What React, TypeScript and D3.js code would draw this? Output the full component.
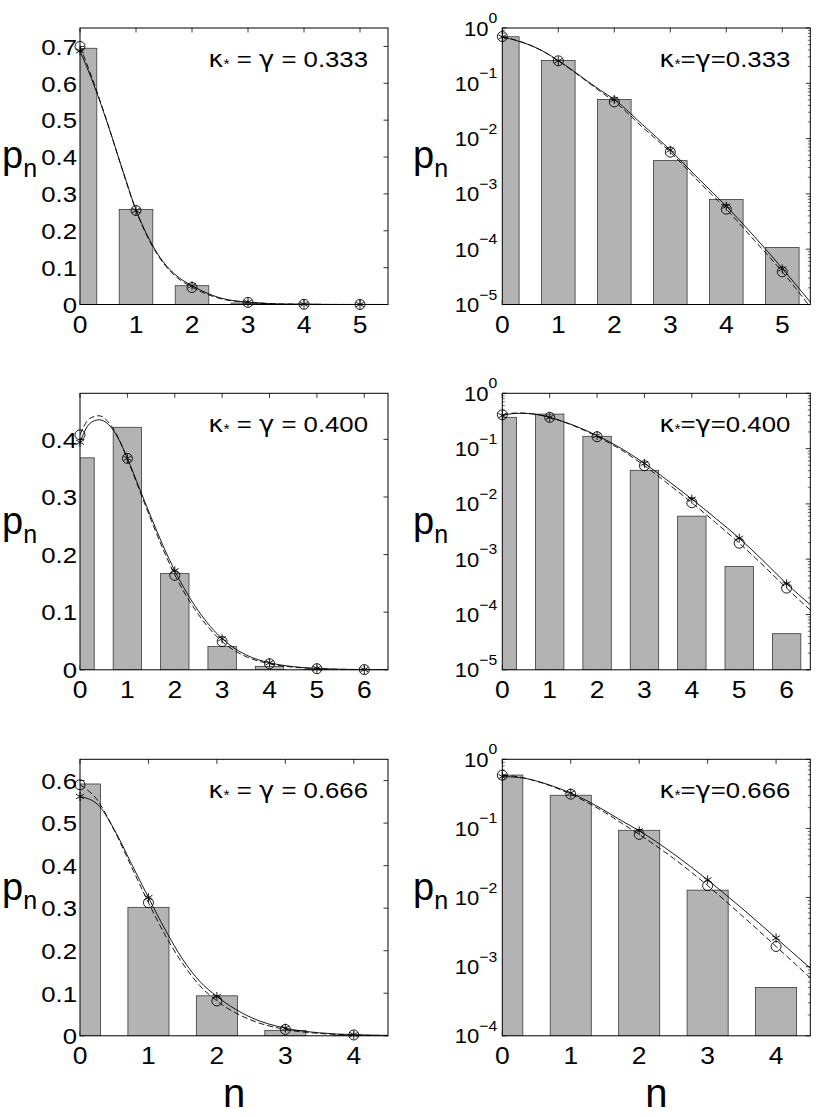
import * as d3 from 'd3';

const FONT = '"Liberation Sans", Arial, Helvetica, sans-serif';
const GREEK = '"DejaVu Sans", "Liberation Sans", sans-serif';
const BAR_FILL = '#b3b3b3';
const BAR_EDGE = '#3a3a3a';

// one row per value of kappa* = gamma
const gammaLabels = ['0.333', '0.400', '0.666'];
const xMax = [5.5, 6.5, 4.5];
const xTicks = [
  [0, 1, 2, 3, 4, 5],
  [0, 1, 2, 3, 4, 5, 6],
  [0, 1, 2, 3, 4],
];
const linYMax = [0.75, 0.48, 0.65];
const linYTicks = [
  [0, 0.1, 0.2, 0.3, 0.4, 0.5, 0.6, 0.7],
  [0, 0.1, 0.2, 0.3, 0.4],
  [0, 0.1, 0.2, 0.3, 0.4, 0.5, 0.6],
];
const logYMinExp = [-5, -5, -4];

// histogram bars p_n
const bars1 = [0.695, 0.258, 0.051, 0.004, 0.00079, 0.000107];
const bars2 = [0.368, 0.421, 0.167, 0.0405, 0.006, 0.00074, 0.000045];
const bars3 = [0.592, 0.302, 0.094, 0.0128, 0.0005];

// circle markers (o)
const circ1 = [0.7, 0.255, 0.046, 0.0057, 0.00053, 0.000039];
const circ2 = [0.408, 0.367, 0.164, 0.049, 0.0105, 0.00195, 0.0003];
const circ3 = [0.59, 0.313, 0.082, 0.0149, 0.00196];

// star markers (*)
const star1 = [0.688, 0.255, 0.051, 0.0062, 0.0006, 0.000044];
const star2 = [0.395, 0.367, 0.172, 0.054, 0.0122, 0.0024, 0.00036];
const star3 = [0.5625, 0.325, 0.0925, 0.018, 0.0026];

// continuous curves
const curveX1 = [0, 0.25, 0.5, 0.75, 1, 1.25, 1.5, 1.75, 2, 2.5, 3, 3.5, 4, 4.5, 5, 5.5];
const solid1 = [0.688, 0.595, 0.487, 0.37, 0.257, 0.173, 0.113, 0.075, 0.051, 0.018, 0.0062, 0.0019, 0.0006, 0.00017, 0.000045, 0.000011];
const dashed1 = [0.7, 0.6, 0.488, 0.368, 0.255, 0.17, 0.11, 0.071, 0.047, 0.0162, 0.0057, 0.0017, 0.00053, 0.000145, 0.000039, 0.000009];

const curveX2 = [0, 0.2, 0.4, 0.6, 0.8, 1, 1.25, 1.5, 1.75, 2, 2.5, 3, 3.5, 4, 4.5, 5, 5.5, 6, 6.5];
const solid2 = [0.395, 0.427, 0.434, 0.426, 0.403, 0.367, 0.316, 0.265, 0.216, 0.172, 0.102, 0.054, 0.026, 0.0122, 0.0055, 0.0024, 0.00095, 0.00036, 0.00015];
const dashed2 = [0.408, 0.436, 0.441, 0.43, 0.404, 0.366, 0.313, 0.26, 0.21, 0.165, 0.096, 0.049, 0.023, 0.0105, 0.0046, 0.00195, 0.00078, 0.0003, 0.00012];

const curveX3 = [0, 0.25, 0.5, 0.75, 1, 1.25, 1.5, 1.75, 2, 2.5, 3, 3.5, 4, 4.5];
const solid3 = [0.5625, 0.545, 0.485, 0.405, 0.325, 0.248, 0.18, 0.128, 0.0925, 0.043, 0.018, 0.007, 0.0026, 0.00095];
const dashed3 = [0.59, 0.555, 0.483, 0.398, 0.313, 0.235, 0.17, 0.118, 0.082, 0.037, 0.0149, 0.0055, 0.00196, 0.00069];

const rows = [
  { bars: bars1, circ: circ1, star: star1, cx: curveX1, solid: solid1, dashed: dashed1 },
  { bars: bars2, circ: circ2, star: star2, cx: curveX2, solid: solid2, dashed: dashed2 },
  { bars: bars3, circ: circ3, star: star3, cx: curveX3, solid: solid3, dashed: dashed3 },
];

const W = 817;
const H = 1117;
const colLeft = [80, 502.3];
const colWidth = 308;
const rowTop = [28, 393.3, 759.3];
const rowHeight = 276.5;
const labelX = [2, 413];

// the original's lettering is wider than Arial, so stretch it a bit
function SText({
  x,
  y,
  sx = 1,
  anchor = 'start',
  size,
  family = FONT,
  children,
}: {
  x: number;
  y: number;
  sx?: number;
  anchor?: string;
  size: number;
  family?: string;
  children: any;
}) {
  return (
    <text
      transform={`translate(${x},${y}) scale(${sx},1)`}
      textAnchor={anchor}
      fontSize={size}
      fontFamily={family}
      fill="#000"
    >
      {children}
    </text>
  );
}

function Star({ x, y, s = 4.5 }: { x: number; y: number; s?: number }) {
  const a = s * 0.87;
  const b = s * 0.5;
  return (
    <path
      d={`M${x},${y - s}L${x},${y + s}M${x - a},${y - b}L${x + a},${y + b}M${x - a},${y + b}L${x + a},${y - b}`}
      stroke="#000"
      strokeWidth={0.9}
      fill="none"
    />
  );
}

function Panel({ row, col }: { row: number; col: number }) {
  const log = col === 1;
  const d = rows[row];
  const left = colLeft[col];
  const top = rowTop[row];
  const right = left + colWidth;
  const bottom = top + rowHeight;
  const clipId = `clip-${row}-${col}`;

  const x = d3.scaleLinear().domain([0, xMax[row]]).range([left, right]);
  const yMin = log ? Math.pow(10, logYMinExp[row]) : 0;
  const y: (v: number) => number = log
    ? d3.scaleLog().domain([yMin, 1]).range([bottom, top])
    : d3.scaleLinear().domain([0, linYMax[row]]).range([bottom, top]);

  const line = d3
    .line<[number, number]>()
    .x((p) => x(p[0]))
    .y((p) => y(p[1]))
    .curve(d3.curveMonotoneX);

  const solidPts = d.cx.map((v, i) => [v, d.solid[i]] as [number, number]);
  const dashedPts = d.cx.map((v, i) => [v, d.dashed[i]] as [number, number]);

  const TL = 4.5;
  const tickEls: any[] = [];
  xTicks[row].forEach((t, i) => {
    const px = x(t);
    tickEls.push(<line key={`xb${i}`} x1={px} x2={px} y1={bottom} y2={bottom - TL} stroke="#000" strokeWidth={0.8} />);
    tickEls.push(<line key={`xt${i}`} x1={px} x2={px} y1={top} y2={top + TL} stroke="#000" strokeWidth={0.8} />);
  });

  let yMajor: number[] = [];
  const yMinor: number[] = [];
  if (log) {
    for (let e = logYMinExp[row]; e <= 0; e++) yMajor.push(Math.pow(10, e));
    for (let e = logYMinExp[row]; e < 0; e++) {
      for (let m = 2; m <= 9; m++) yMinor.push(m * Math.pow(10, e));
    }
  } else {
    yMajor = linYTicks[row];
  }
  yMajor.forEach((t, i) => {
    const py = y(t);
    tickEls.push(<line key={`yl${i}`} x1={left} x2={left + TL} y1={py} y2={py} stroke="#000" strokeWidth={0.8} />);
    tickEls.push(<line key={`yr${i}`} x1={right} x2={right - TL} y1={py} y2={py} stroke="#000" strokeWidth={0.8} />);
  });
  yMinor.forEach((t, i) => {
    const py = y(t);
    tickEls.push(<line key={`ml${i}`} x1={left} x2={left + 2.5} y1={py} y2={py} stroke="#000" strokeWidth={0.6} />);
    tickEls.push(<line key={`mr${i}`} x1={right} x2={right - 2.5} y1={py} y2={py} stroke="#000" strokeWidth={0.6} />);
  });

  const midY = (top + bottom) / 2;
  const sp = log ? '' : ' ';

  return (
    <g>
      <defs>
        <clipPath id={clipId}>
          <rect x={left} y={top} width={colWidth} height={rowHeight} />
        </clipPath>
      </defs>
      {tickEls}
      <g clipPath={`url(#${clipId})`}>
        {d.bars.map((v, i) => (
          <rect
            key={i}
            x={x(i - 0.3)}
            width={x(i + 0.3) - x(i - 0.3)}
            y={y(v)}
            height={bottom - y(v)}
            fill={BAR_FILL}
            stroke={BAR_EDGE}
            strokeWidth={0.8}
          />
        ))}
        <path d={line(dashedPts) ?? ''} fill="none" stroke="#000" strokeWidth={0.9} strokeDasharray="6,3" />
        <path d={line(solidPts) ?? ''} fill="none" stroke="#000" strokeWidth={0.9} />
      </g>
      <rect x={left} y={top} width={colWidth} height={rowHeight} fill="none" stroke="#000" strokeWidth={1} />
      {d.circ.map((v, i) => (
        <circle key={`c${i}`} cx={x(i)} cy={y(v)} r={5} fill="none" stroke="#000" strokeWidth={0.9} />
      ))}
      {d.star.map((v, i) => (
        <Star key={`s${i}`} x={x(i)} y={y(v)} />
      ))}

      {/* tick labels */}
      {xTicks[row].map((t) => (
        <SText key={`xl${t}`} x={x(t)} y={bottom + 28} sx={1.15} anchor="middle" size={23}>
          {t}
        </SText>
      ))}
      {log
        ? yMajor.map((t) => {
            const e = Math.round(Math.log10(t));
            return (
              <SText key={`yl${e}`} x={left - 5} y={y(t) + 7.5} sx={1.05} anchor="end" size={21}>
                10
                <tspan fontSize={15} dy={-12.5}>
                  {e === 0 ? '0' : '\u2212' + Math.abs(e)}
                </tspan>
              </SText>
            );
          })
        : yMajor.map((t) => (
            <SText key={`yl${t}`} x={left - 3} y={y(t) + 8.3} sx={1.12} anchor="end" size={23}>
              {t === 0 ? '0' : t.toFixed(1)}
            </SText>
          ))}

      {/* p_n label */}
      <SText x={labelX[col]} y={midY + 2} size={38}>
        p
        <tspan fontSize={25} dy={9}>
          n
        </tspan>
      </SText>

      {/* annotation */}
      <SText x={right - 20} y={top + 39} sx={1.12} anchor="end" size={23}>
        <tspan fontFamily={GREEK}>κ</tspan>
        <tspan fontSize={14} dy={2}>
          *
        </tspan>
        <tspan dy={-2}>{sp + '=' + sp}</tspan>
        <tspan fontFamily={GREEK}>γ</tspan>
        <tspan>{sp + '=' + sp + gammaLabels[row]}</tspan>
      </SText>

      {row === 2 && (
        <SText x={(left + right) / 2} y={1107} anchor="middle" size={40}>
          n
        </SText>
      )}
    </g>
  );
}

export default function App() {
  return (
    <svg
      width={W}
      height={H}
      viewBox={`0 0 ${W} ${H}`}
      style={{ position: 'absolute', left: 0, top: 0, background: '#fff' }}
    >
      <rect width={W} height={H} fill="#fff" />
      {[0, 1, 2].map((r) => [0, 1].map((c) => <Panel key={`${r}-${c}`} row={r} col={c} />))}
    </svg>
  );
}
